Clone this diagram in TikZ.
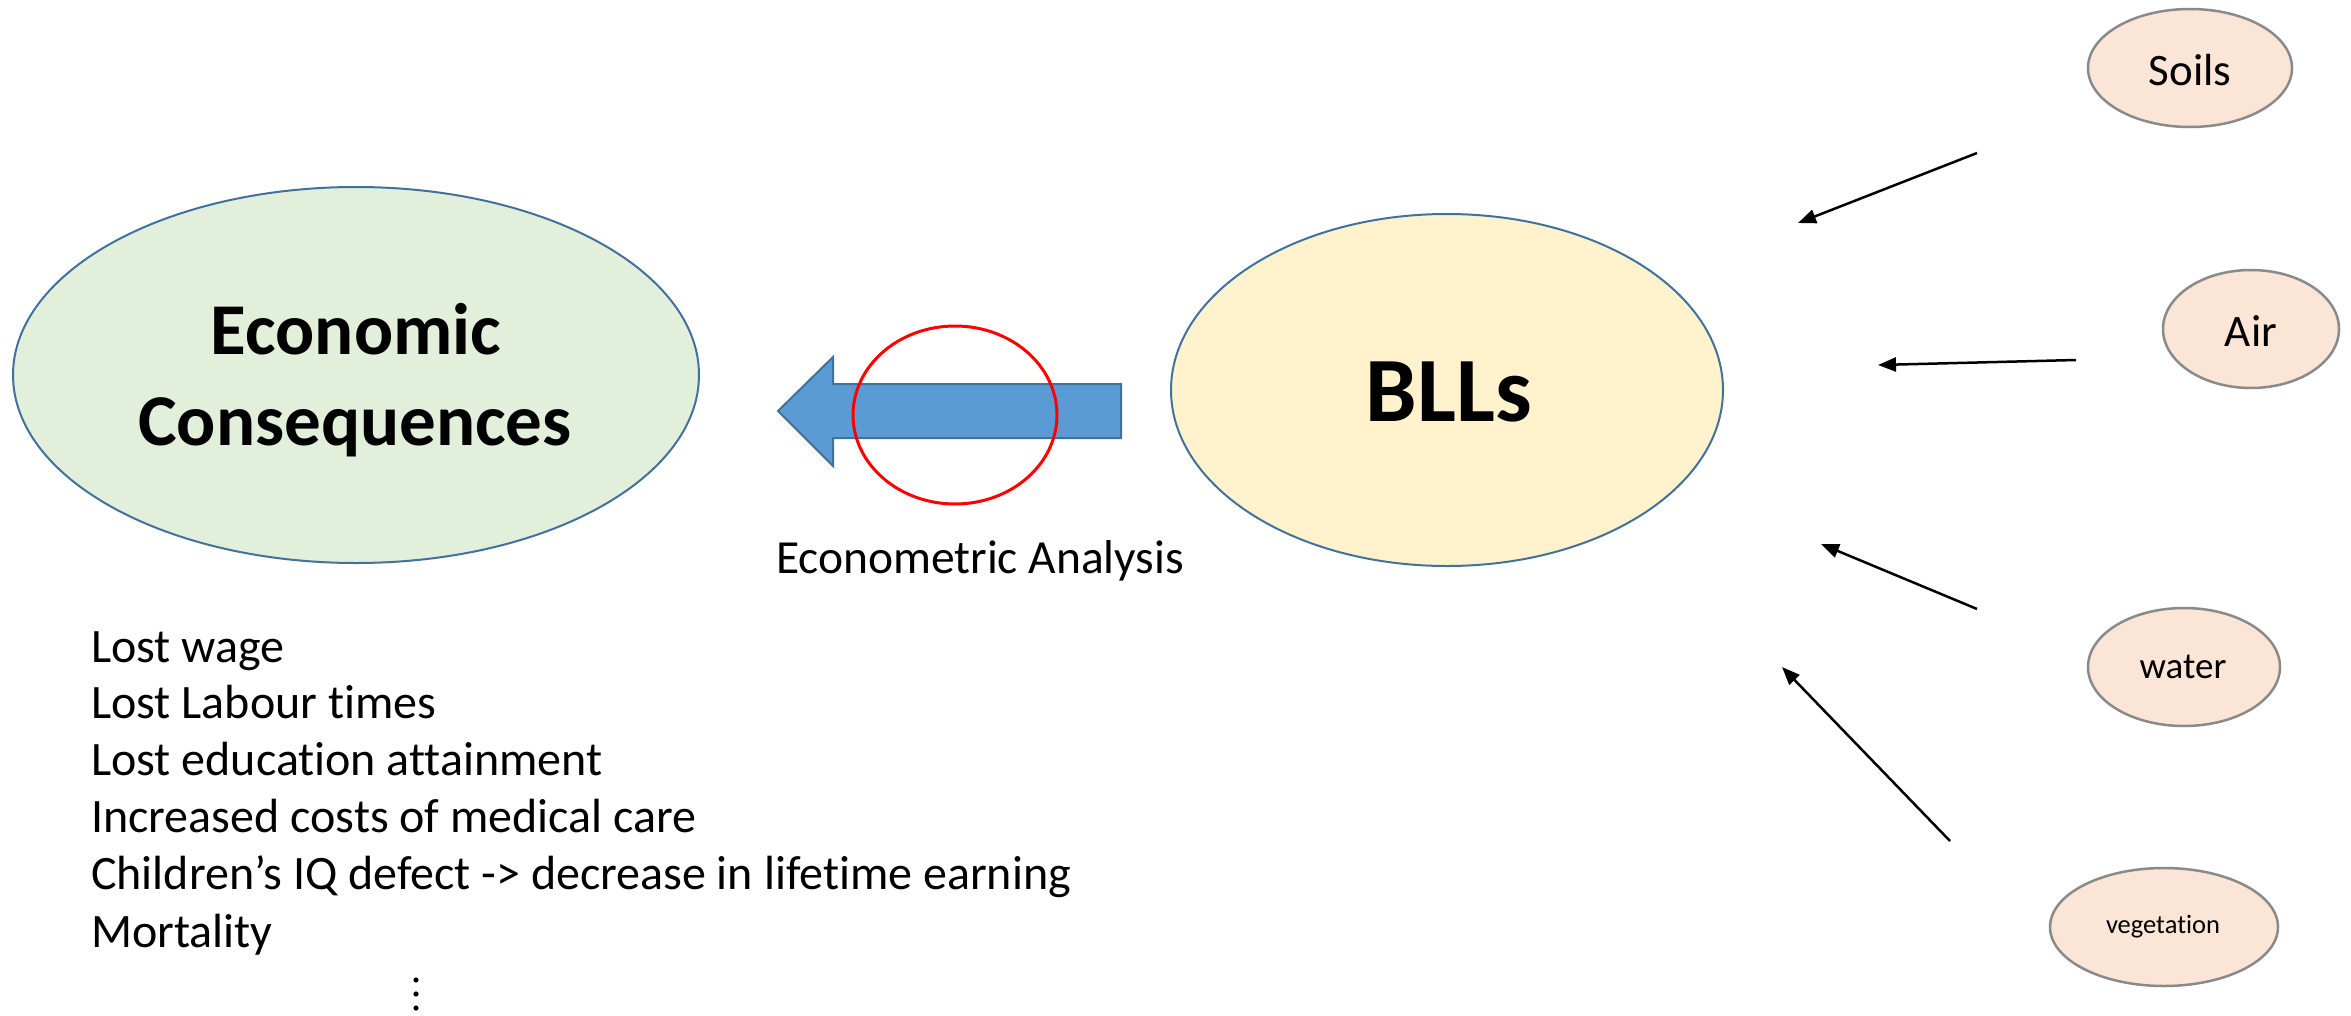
\documentclass[tikz,border=0pt]{standalone}
\usepackage{fontspec}
\setmainfont{Carlito}[Ligatures=NoCommon]
\usetikzlibrary{shapes.geometric,arrows.meta}
\definecolor{ovblue}{HTML}{41719C}
\definecolor{arrblue}{HTML}{5B9BD5}
\definecolor{econfill}{HTML}{E2EFDA}
\definecolor{bllfill}{HTML}{FFF2CC}
\definecolor{srcfill}{HTML}{FBE5D6}
\definecolor{srcline}{HTML}{8A8A8A}
\tikzset{
  bigoval/.style={ellipse, draw=ovblue, line width=2pt, inner sep=0pt},
  srcoval/.style={ellipse, draw=srcline, fill=srcfill, line width=2.5pt, inner sep=0pt,
    minimum height=118pt},
  feed/.style={line width=2.5pt, -{Triangle[length=18pt,width=14pt]}},
  txt/.style={anchor=base, inner sep=0pt, font=\fontsize{47.5}{57}\selectfont},
  listtxt/.style={anchor=base west, inner sep=0pt, font=\fontsize{48}{57}\selectfont},
}
\begin{document}
\begin{tikzpicture}[x=1pt,y=-1pt]
\useasboundingbox (0,0) rectangle (2351,1015);
% big ovals
\node[bigoval, fill=econfill, minimum width=686pt, minimum height=376pt] (econ) at (356,375) {};
\node[bigoval, fill=bllfill, minimum width=552pt, minimum height=352pt] (bll) at (1447,390) {};
\node[anchor=base, inner sep=0pt, font=\bfseries\fontsize{73}{91}\selectfont] (econA) at (356,354) {Economic};
\node[anchor=base, inner sep=0pt, font=\bfseries\fontsize{73}{91}\selectfont] (econB) at (355,445) {Consequences};
\node[anchor=base, inner sep=0pt, font=\bfseries\fontsize{92}{110}\selectfont] (bllt) at (1449,421) {BLLs};
% blue arrow
\coordinate (tip) at (778,411);
\coordinate (hb) at (833,411);
\coordinate (rt) at (1121,411);
\draw[draw=ovblue, fill=arrblue, line width=2pt, line join=miter]
  (tip) -- (hb |- 0,357) -- (hb |- 0,384) -- (rt |- 0,384) -- (rt |- 0,438)
  -- (hb |- 0,438) -- (hb |- 0,466) -- cycle;
% red oval
\node[ellipse, draw=red, line width=3pt, inner sep=0pt, minimum width=204pt, minimum height=178pt] (focus) at (955,415) {};
\node[txt] (eco) at (980,573) {Econometric Analysis};
% source ovals
\node[srcoval, minimum width=204pt] (soils) at (2190,68) {};
\node[srcoval, minimum width=176pt] (air) at (2251,329) {};
\node[srcoval, minimum width=192pt] (water) at (2184,667) {};
\node[srcoval, minimum width=228pt] (veg) at (2164,927) {};
\node[anchor=base, inner sep=0pt, font=\fontsize{45}{54}\selectfont] at (2190,85) {Soils};
\node[anchor=base, inner sep=0pt, font=\fontsize{45}{54}\selectfont] at (2251,346) {Air};
\node[anchor=base, inner sep=0pt, font=\fontsize{37}{44}\selectfont] at (2183,678) {water};
\node[anchor=base, inner sep=0pt, font=\fontsize{26.5}{32}\selectfont] at (2163,933) {vegetation};
% feed arrows
\coordinate (s1) at (1977,153); \coordinate (e1) at (1798,223);
\coordinate (s2) at (2076,360); \coordinate (e2) at (1878,365);
\coordinate (s3) at (1977,609); \coordinate (e3) at (1821,544);
\coordinate (s4) at (1950,841); \coordinate (e4) at (1782,667);
\draw[feed] (s1) -- (e1);
\draw[feed] (s2) -- (e2);
\draw[feed] (s3) -- (e3);
\draw[feed] (s4) -- (e4);
% list
\node[listtxt] (l1) at (91,662) {Lost wage};
\node[listtxt] (l2) at (91,718) {Lost Labour times};
\node[listtxt] (l3) at (91,775) {Lost education attainment};
\node[listtxt] (l4) at (91,832) {Increased costs of medical care};
\node[listtxt] (l5) at (91,889) {Children’s IQ defect -> decrease in lifetime earning};
\node[listtxt] (l6) at (91,947) {Mortality};
\foreach \yy in {980,994,1008} \fill (416,\yy) circle (2.6pt);
\end{tikzpicture}
\end{document}
